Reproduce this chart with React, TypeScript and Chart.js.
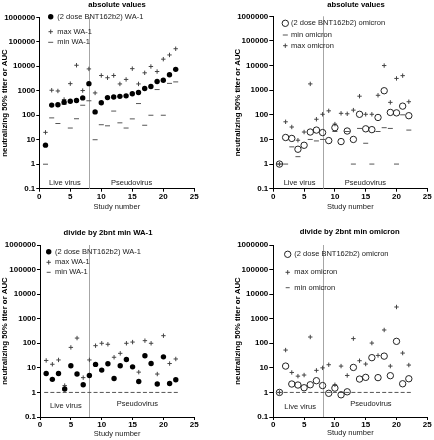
import React, { useEffect, useRef } from "react";
import { Chart, registerables } from "chart.js";

Chart.register(...registerables);
Chart.defaults.font.family = "'Liberation Sans', Arial, sans-serif";

// ---------- data ----------
const studies = [1, 2, 3, 4, 5, 6, 7, 8, 9, 10, 11, 12, 13, 14, 15, 16, 17, 18, 19, 20, 21, 22];
const yTickValues = [0.1, 1, 10, 100, 1000, 10000, 100000, 1000000];
const yTickLabels = ["0.1", "1", "10", "100", "1000", "10000", "100000", "1000000"];
const xTickValues = [0, 5, 10, 15, 20, 25];
const dividerStudy = 8;

const panelTitles = ["absolute values", "absolute values", "divide by 2bnt min WA-1", "divide by 2bnt min omicron"];
const xAxisTitle = "Study number";
const yAxisTitle = "neutralizing 50% titer or AUC";
const regionLabels = ["Live virus", "Pseudovirus"];

const labelWa1 = "(2 dose BNT162b2) WA-1";
const labelMaxWa1 = "max WA-1";
const labelMinWa1 = "min WA-1";
const labelOmi = "(2 dose BNT162b2) omicron";
const labelMaxOmi = "max omicron";
const labelMinOmi = "min omicron";

// panel 1: absolute values, WA-1
const wa1Abs = [6, 260, 270, 340, 375, 400, 510, 1950, 137, 325, 525, 555, 590, 620, 750, 850, 1240, 1500, 2400, 2700, 4500, 7500];
const wa1AbsMax = [20, 1050, 980, 440, 1950, 11000, 1020, 7800, 815, 4200, 3400, 4200, 1900, 2900, 8000, 1900, 5400, 9800, 6100, 19500, 29000, 52000];
const wa1AbsMin = [1, 78, 46, 280, 30, 72, 256, 390, 10, 41, 37, 148, 49, 30, 71, 300, 39, 100, 1120, 100, 2000, 2300];

// panel 2: absolute values, omicron
const omiAbs = [1, 12, 11, 4, 5.8, 20, 24, 19, 9, 30, 8.2, 22, 10, 105, 27, 25, 78, 950, 125, 120, 225, 92];
const omiAbsMax = [1, 52, 32, 9.3, 20, 1800, 66, 105, 145, 42, 115, 110, 155, 570, 105, 105, 620, 10000, 320, 3000, 3900, 340];
const omiAbsMin = [1, 1, 5, 2, null, 10, 8.7, 10, null, 21, null, 21, 1, 28, 7, 1, 21, 30, 28, 1, 100, 24];

// panel 3: divided by 2bnt min, WA-1
const wa1Div = [5.9, 3.4, 5.9, 1.37, 12.2, 5.6, 2.05, 4.9, 13.8, 8.1, 14.7, 3.7, 12.2, 22, 11, 2.8, 31, 15, 2.2, 28, 2.3, 3.3];
const wa1DivMax = [20, 14, 21, 1.9, 68, 163, 4, 21, 80, 100, 91, 27, 39, 100, 112, 6.7, 128, 100, 5.6, 204, 15, 23];
const wa1DivMin = [1, 1, 1, 1, 1, 1, 1, 1, 1, 1, 1, 1, 1, 1, 1, 1, 1, 1, 1, 1, 1, 1];

// panel 4: divided by 2bnt min, omicron
const omiDiv = [1, 11.8, 2.2, 2.0, 1.55, 2.05, 3, 1.9, 0.92, 1.5, 0.8, 1.06, 10.4, 3.5, 4.1, 26, 4, 30, 4.8, 120, 2.25, 3.6];
const omiDivMax = [1, 53, 6.5, 4.6, 5.1, 180, 7.9, 10, 13.4, 2.05, 11.8, 4.9, 155, 19.5, 14.3, 102, 32, 348, 11.8, 3000, 40, 13];
const omiDivMin = [1, 1, 1, 1, 1, 1, 1, 1, 1, 1, 1, 1, 1, 1, 1, 1, 1, 1, 1, 1, 1, 1];

// ---------- styling helpers ----------
const W = 217;
const H = 220;
const TEXT = "#1a1a1a";
const DOT_R = 2.7;
const RING_R = 3.2;
const PLUS_R = 2.2;

type Kind = "dot" | "ring" | "plus" | "dash";

function toPoints(vals: (number | null)[]) {
  return studies.map((s, i) => ({ x: s, y: vals[i] }));
}

function styleFor(kind: Kind, dashR: number) {
  switch (kind) {
    case "dot":
      return { pointStyle: "circle", pointRadius: DOT_R, backgroundColor: "#000", borderColor: "#000", borderWidth: 0 };
    case "ring":
      return { pointStyle: "circle", pointRadius: RING_R, backgroundColor: "rgba(0,0,0,0)", borderColor: "#222", borderWidth: 1 };
    case "plus":
      return { pointStyle: "cross", pointRadius: PLUS_R, backgroundColor: "#444", borderColor: "#444", borderWidth: 1 };
    default:
      return { pointStyle: "line", pointRadius: dashR, backgroundColor: "#555", borderColor: "#555", borderWidth: 1 };
  }
}

function drawMarker(ctx: CanvasRenderingContext2D, kind: Kind, x: number, y: number, dashR: number) {
  ctx.save();
  ctx.beginPath();
  if (kind === "dot") {
    ctx.fillStyle = "#000";
    ctx.arc(x, y, DOT_R, 0, Math.PI * 2);
    ctx.fill();
  } else if (kind === "ring") {
    ctx.strokeStyle = "#222";
    ctx.lineWidth = 1;
    ctx.arc(x, y, RING_R, 0, Math.PI * 2);
    ctx.stroke();
  } else if (kind === "plus") {
    ctx.strokeStyle = "#444";
    ctx.lineWidth = 1;
    ctx.moveTo(x - PLUS_R, y);
    ctx.lineTo(x + PLUS_R, y);
    ctx.moveTo(x, y - PLUS_R);
    ctx.lineTo(x, y + PLUS_R);
    ctx.stroke();
  } else {
    ctx.strokeStyle = "#555";
    ctx.lineWidth = 1;
    ctx.moveTo(x - dashR, y);
    ctx.lineTo(x + dashR, y);
    ctx.stroke();
  }
  ctx.restore();
}

// ---------- panel layouts ----------
interface Series { label: string; values: (number | null)[]; kind: Kind; }
interface PanelCfg {
  title: string;
  titleX: number;
  titleY: number;
  area: { left: number; top: number; right: number; bottom: number };
  yTitlePad: number;
  xTitlePad: number;
  tickLen: number;
  dashR: number;
  series: Series[];
  legend: { idx: number; x: number; y: number }[];
  legendTextX: number;
  regions: { x: number; y: number }[];
}

const panels: PanelCfg[] = [
  {
    title: panelTitles[0], titleX: 117, titleY: 4.5,
    area: { left: 39.3, top: 17.3, right: 194.3, bottom: 188.7 },
    yTitlePad: 0, xTitlePad: 8.8, tickLen: 3, dashR: 2.5,
    series: [
      { label: labelWa1, values: wa1Abs, kind: "dot" },
      { label: labelMaxWa1, values: wa1AbsMax, kind: "plus" },
      { label: labelMinWa1, values: wa1AbsMin, kind: "dash" },
    ],
    legend: [{ idx: 0, x: 50.7, y: 16.7 }, { idx: 1, x: 50.7, y: 31.7 }, { idx: 2, x: 50.7, y: 42.3 }],
    legendTextX: 57.3,
    regions: [{ x: 49, y: 183 }, { x: 111, y: 183 }],
  },
  {
    title: panelTitles[1], titleX: 139, titleY: 4.5,
    area: { left: 56.3, top: 16.3, right: 210.3, bottom: 188.7 },
    yTitlePad: 16.3, xTitlePad: 8.8, tickLen: 4, dashR: 2.5,
    series: [
      { label: labelOmi, values: omiAbs, kind: "ring" },
      { label: labelMinOmi, values: omiAbsMin, kind: "dash" },
      { label: labelMaxOmi, values: omiAbsMax, kind: "plus" },
    ],
    legend: [{ idx: 0, x: 68.3, y: 23.3 }, { idx: 1, x: 68.3, y: 35 }, { idx: 2, x: 68.3, y: 45.7 }],
    legendTextX: 74,
    regions: [{ x: 66.7, y: 183.3 }, { x: 127.7, y: 183.3 }],
  },
  {
    title: panelTitles[2], titleX: 108, titleY: 12.7,
    area: { left: 40, top: 25, right: 194.3, bottom: 197 },
    yTitlePad: 0, xTitlePad: 1.8, tickLen: 3, dashR: 2,
    series: [
      { label: labelWa1, values: wa1Div, kind: "dot" },
      { label: labelMaxWa1, values: wa1DivMax, kind: "plus" },
      { label: labelMinWa1, values: wa1DivMin, kind: "dash" },
    ],
    legend: [{ idx: 0, x: 48.7, y: 31.7 }, { idx: 1, x: 48.7, y: 42.3 }, { idx: 2, x: 48.7, y: 52.3 }],
    legendTextX: 55,
    regions: [{ x: 50, y: 186 }, { x: 116.7, y: 184 }],
  },
  {
    title: panelTitles[3], titleX: 132.7, titleY: 12,
    area: { left: 56.3, top: 25, right: 210.3, bottom: 197 },
    yTitlePad: 16.3, xTitlePad: 2.2, tickLen: 4, dashR: 2,
    series: [
      { label: labelOmi, values: omiDiv, kind: "ring" },
      { label: labelMaxOmi, values: omiDivMax, kind: "plus" },
      { label: labelMinOmi, values: omiDivMin, kind: "dash" },
    ],
    legend: [{ idx: 0, x: 70.7, y: 34.3 }, { idx: 1, x: 70.7, y: 52.3 }, { idx: 2, x: 70.7, y: 67.7 }],
    legendTextX: 77.3,
    regions: [{ x: 67.3, y: 186.7 }, { x: 133.3, y: 184.3 }],
  },
];

const decorPlugin = {
  id: "panelDecor",
  beforeDatasetsDraw(chart: any, _args: any, opts: any) {
    const cfg: PanelCfg = opts.cfg;
    const ctx = chart.ctx as CanvasRenderingContext2D;
    const { top, bottom } = chart.chartArea;
    const x = Math.round(chart.scales.x.getPixelForValue(dividerStudy)) + 0.5;
    ctx.save();
    ctx.strokeStyle = "#a6a6a6";
    ctx.lineWidth = 1;
    ctx.beginPath();
    ctx.moveTo(x, top);
    ctx.lineTo(x, bottom);
    ctx.stroke();
    ctx.fillStyle = TEXT;
    ctx.font = "7.5px 'Liberation Sans', Arial, sans-serif";
    ctx.textAlign = "left";
    ctx.textBaseline = "middle";
    cfg.regions.forEach((r, i) => ctx.fillText(regionLabels[i], r.x, r.y));
    ctx.restore();
  },
  afterDraw(chart: any, _args: any, opts: any) {
    const cfg: PanelCfg = opts.cfg;
    const ctx = chart.ctx as CanvasRenderingContext2D;
    ctx.save();
    ctx.fillStyle = "#000";
    ctx.font = "bold 7.7px 'Liberation Sans', Arial, sans-serif";
    ctx.textAlign = "center";
    ctx.textBaseline = "middle";
    ctx.fillText(cfg.title, cfg.titleX, cfg.titleY);
    ctx.font = "7.5px 'Liberation Sans', Arial, sans-serif";
    ctx.textAlign = "left";
    cfg.legend.forEach((row) => {
      const s = cfg.series[row.idx];
      drawMarker(ctx, s.kind, row.x, row.y, cfg.dashR);
      ctx.fillStyle = TEXT;
      ctx.fillText(chart.data.datasets[row.idx].label, cfg.legendTextX, row.y);
    });
    ctx.restore();
  },
};

function buildConfig(cfg: PanelCfg): any {
  const tickFont = { size: 8, weight: "bold" as const };
  return {
    type: "scatter",
    data: {
      datasets: cfg.series.map((s) => ({
        label: s.label,
        data: toPoints(s.values),
        showLine: false,
        ...styleFor(s.kind, cfg.dashR),
        pointHoverRadius: 0,
      })),
    },
    options: {
      responsive: false,
      maintainAspectRatio: false,
      animation: false,
      events: [],
      layout: {
        padding: { left: 0, top: cfg.area.top, right: W - cfg.area.right, bottom: 0 },
      },
      plugins: {
        legend: { display: false },
        tooltip: { enabled: false },
        title: { display: false },
        panelDecor: { cfg },
      },
      scales: {
        x: {
          type: "linear",
          position: "bottom",
          min: 0,
          max: 25,
          afterBuildTicks: (s: any) => {
            s.ticks = xTickValues.map((v) => ({ value: v }));
          },
          afterFit: (s: any) => {
            s.height = H - cfg.area.bottom;
          },
          ticks: {
            font: tickFont,
            color: "#000",
            padding: 0,
            maxRotation: 0,
            autoSkip: false,
            callback: (v: any) => String(v),
          },
          grid: { drawOnChartArea: false, drawTicks: true, tickLength: 3, color: "#000", lineWidth: 1 },
          border: { display: true, color: "#000", width: 1 },
          title: {
            display: true,
            text: xAxisTitle,
            color: TEXT,
            font: { size: 7.5 },
            padding: { top: 0, bottom: cfg.xTitlePad },
          },
        },
        y: {
          type: "logarithmic",
          position: "left",
          min: 0.1,
          max: 1000000,
          afterBuildTicks: (s: any) => {
            s.ticks = yTickValues.map((v) => ({ value: v }));
          },
          afterFit: (s: any) => {
            s.width = cfg.area.left;
          },
          ticks: {
            font: tickFont,
            color: "#000",
            padding: 1,
            autoSkip: false,
            callback: (v: any) => {
              const i = yTickValues.indexOf(Number(v));
              return i >= 0 ? yTickLabels[i] : "";
            },
          },
          grid: { drawOnChartArea: false, drawTicks: true, tickLength: cfg.tickLen, color: "#000", lineWidth: 1 },
          border: { display: true, color: "#000", width: 1 },
          title: {
            display: true,
            text: yAxisTitle,
            color: "#000",
            font: { size: 7.8, weight: "bold" },
            padding: { top: cfg.yTitlePad, bottom: 0 },
          },
        },
      },
    },
    plugins: [decorPlugin],
  };
}

function Panel({ cfg, left, top }: { cfg: PanelCfg; left: number; top: number }) {
  const ref = useRef<HTMLCanvasElement>(null);
  useEffect(() => {
    if (!ref.current) return;
    const chart = new Chart(ref.current, buildConfig(cfg));
    return () => chart.destroy();
  }, [cfg]);
  return (
    <canvas
      ref={ref}
      width={W}
      height={H}
      style={{ position: "absolute", left, top, width: W, height: H, display: "block" }}
    />
  );
}

export default function App() {
  return (
    <div style={{ position: "absolute", left: 0, top: 0, width: 2 * W, height: 2 * H, background: "#fff" }}>
      <Panel cfg={panels[0]} left={0} top={0} />
      <Panel cfg={panels[1]} left={W} top={0} />
      <Panel cfg={panels[2]} left={0} top={H} />
      <Panel cfg={panels[3]} left={W} top={H} />
    </div>
  );
}
